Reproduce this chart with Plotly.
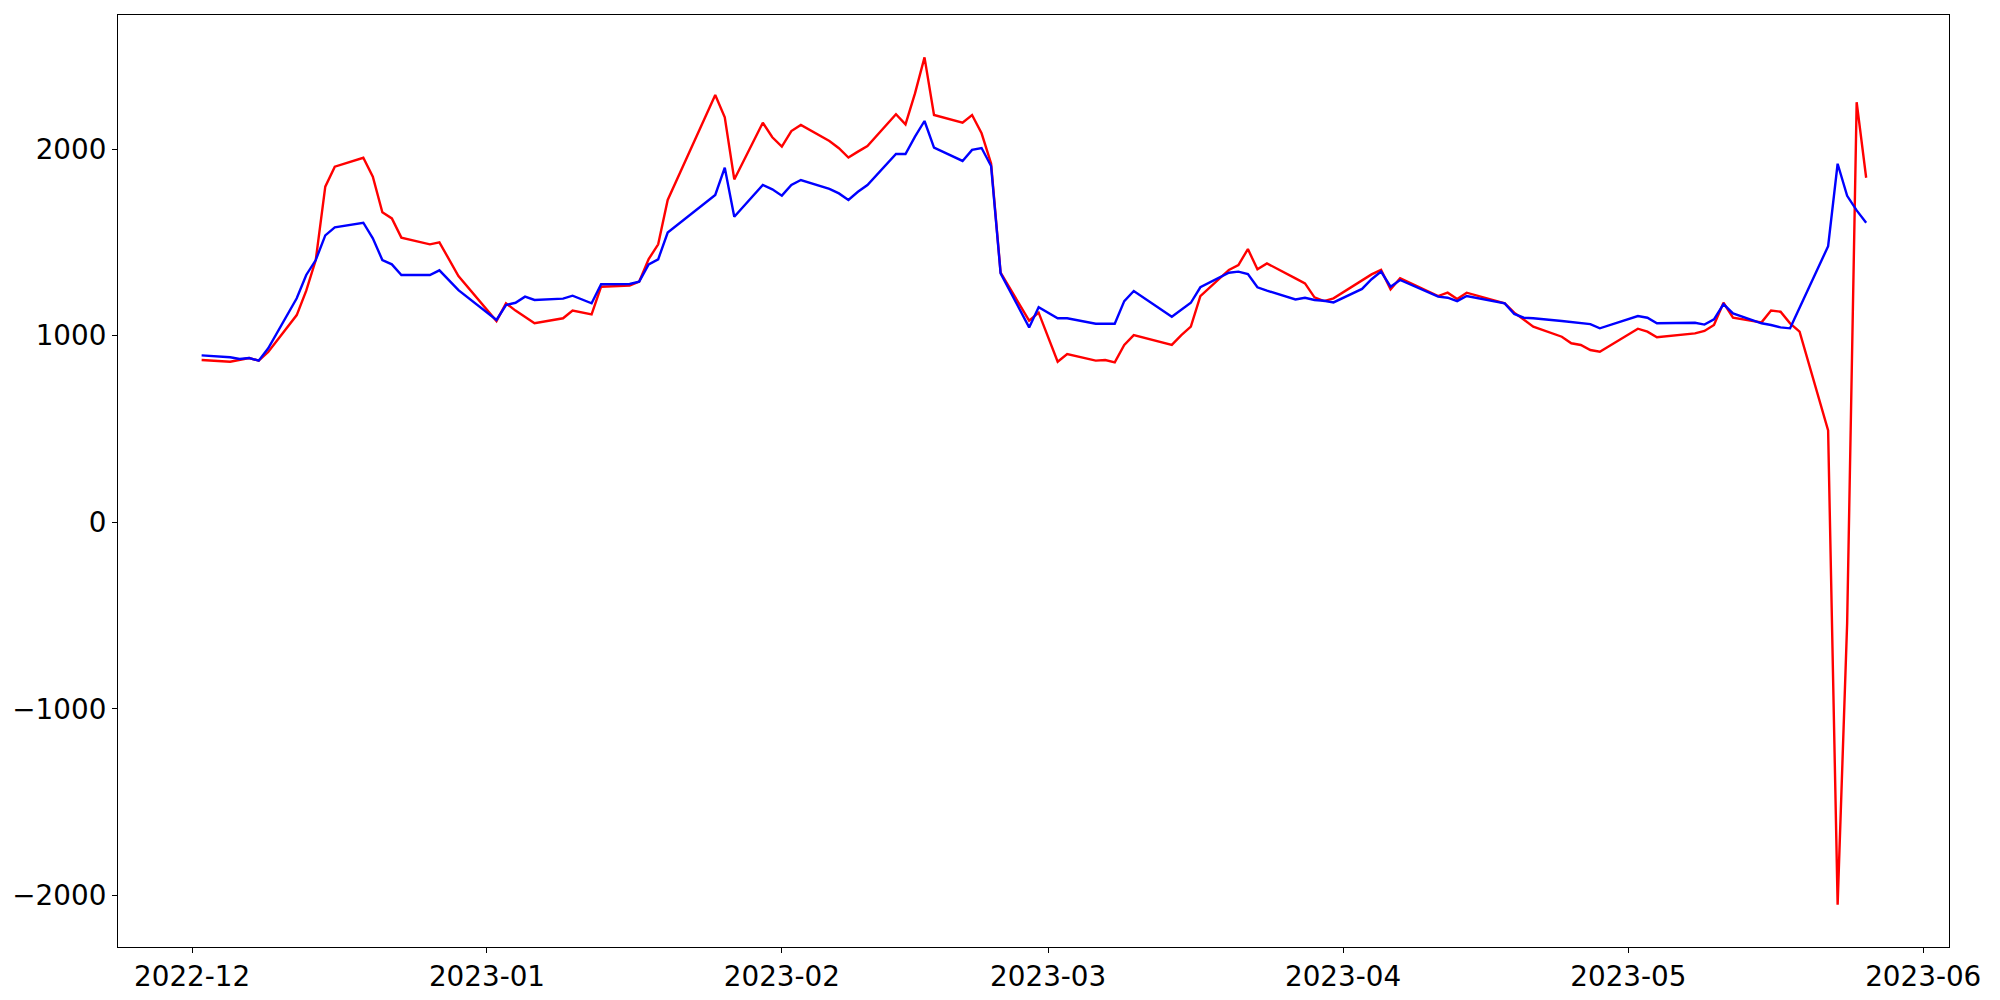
import plotly.graph_objects as go

# red series (vertices)
red_dates = [
    "2022-12-02", "2022-12-05", "2022-12-07", "2022-12-08", "2022-12-09",
    "2022-12-12", "2022-12-13", "2022-12-14", "2022-12-15", "2022-12-16",
    "2022-12-19", "2022-12-20", "2022-12-21", "2022-12-22", "2022-12-23",
    "2022-12-26", "2022-12-27", "2022-12-29", "2023-01-02", "2023-01-03",
    "2023-01-04", "2023-01-05", "2023-01-06", "2023-01-09", "2023-01-10",
    "2023-01-12", "2023-01-13", "2023-01-16", "2023-01-17", "2023-01-18",
    "2023-01-19", "2023-01-20", "2023-01-25", "2023-01-26", "2023-01-27",
    "2023-01-30", "2023-01-31", "2023-02-01", "2023-02-02", "2023-02-03",
    "2023-02-06", "2023-02-07", "2023-02-08", "2023-02-09", "2023-02-10",
    "2023-02-13", "2023-02-14", "2023-02-15", "2023-02-16", "2023-02-17",
    "2023-02-20", "2023-02-21", "2023-02-22", "2023-02-23", "2023-02-24",
    "2023-02-27", "2023-02-28", "2023-03-02", "2023-03-03", "2023-03-06",
    "2023-03-07", "2023-03-08", "2023-03-09", "2023-03-10", "2023-03-14",
    "2023-03-15", "2023-03-16", "2023-03-17", "2023-03-20", "2023-03-21",
    "2023-03-22", "2023-03-23", "2023-03-24", "2023-03-27", "2023-03-28",
    "2023-03-29", "2023-03-30", "2023-03-31", "2023-04-03", "2023-04-04",
    "2023-04-05", "2023-04-06", "2023-04-07", "2023-04-11", "2023-04-12",
    "2023-04-13", "2023-04-14", "2023-04-18", "2023-04-19", "2023-04-20",
    "2023-04-21", "2023-04-24", "2023-04-25", "2023-04-26", "2023-04-27",
    "2023-04-28", "2023-05-02", "2023-05-03", "2023-05-04", "2023-05-08",
    "2023-05-09", "2023-05-10", "2023-05-11", "2023-05-12", "2023-05-15",
    "2023-05-16", "2023-05-17", "2023-05-18", "2023-05-19", "2023-05-22",
    "2023-05-23", "2023-05-24", "2023-05-25", "2023-05-26",
]
red_values = [
    869, 860, 880, 866, 912,
    1110, 1241, 1405, 1798, 1905,
    1953, 1852, 1661, 1628, 1525,
    1489, 1500, 1319, 1078, 1173,
    1134, 1098, 1066, 1093, 1134,
    1114, 1262, 1268, 1289, 1410,
    1489, 1727, 2289, 2170, 1837,
    2141, 2063, 2013, 2096, 2129,
    2043, 2004, 1954, 1986, 2016,
    2186, 2132, 2298, 2491, 2182,
    2141, 2182, 2084, 1923, 1337,
    1080, 1123, 860, 901, 866,
    869, 857, 950, 1003, 950,
    1003, 1048, 1212, 1352, 1378,
    1464, 1355, 1387, 1307, 1280,
    1205, 1185, 1200, 1298, 1328,
    1352, 1248, 1307, 1212, 1230,
    1196, 1230, 1173, 1123, 1084,
    1048, 994, 959, 950, 923,
    914, 1037, 1021, 991, 1012,
    1025, 1057, 1176, 1096, 1071,
    1134, 1128, 1066, 1021, 492,
    -2049, -540, 2251, 1846,
]

# blue series
blue_dates = [
    "2022-12-02", "2022-12-05", "2022-12-06", "2022-12-07", "2022-12-08",
    "2022-12-09", "2022-12-12", "2022-12-13", "2022-12-14", "2022-12-15",
    "2022-12-16", "2022-12-19", "2022-12-20", "2022-12-21", "2022-12-22",
    "2022-12-23", "2022-12-26", "2022-12-27", "2022-12-29", "2023-01-02",
    "2023-01-03", "2023-01-04", "2023-01-05", "2023-01-06", "2023-01-09",
    "2023-01-10", "2023-01-12", "2023-01-13", "2023-01-16", "2023-01-17",
    "2023-01-18", "2023-01-19", "2023-01-20", "2023-01-25", "2023-01-26",
    "2023-01-27", "2023-01-30", "2023-01-31", "2023-02-01", "2023-02-02",
    "2023-02-03", "2023-02-06", "2023-02-07", "2023-02-08", "2023-02-09",
    "2023-02-10", "2023-02-13", "2023-02-14", "2023-02-15", "2023-02-16",
    "2023-02-17", "2023-02-20", "2023-02-21", "2023-02-22", "2023-02-23",
    "2023-02-24", "2023-02-27", "2023-02-28", "2023-03-02", "2023-03-03",
    "2023-03-06", "2023-03-07", "2023-03-08", "2023-03-09", "2023-03-10",
    "2023-03-14", "2023-03-15", "2023-03-16", "2023-03-17", "2023-03-20",
    "2023-03-21", "2023-03-22", "2023-03-23", "2023-03-24", "2023-03-27",
    "2023-03-28", "2023-03-29", "2023-03-30", "2023-03-31", "2023-04-03",
    "2023-04-04", "2023-04-05", "2023-04-06", "2023-04-07", "2023-04-11",
    "2023-04-12", "2023-04-13", "2023-04-14", "2023-04-18", "2023-04-19",
    "2023-04-20", "2023-04-21", "2023-04-24", "2023-04-25", "2023-04-26",
    "2023-04-27", "2023-04-28", "2023-05-02", "2023-05-03", "2023-05-04",
    "2023-05-08", "2023-05-09", "2023-05-10", "2023-05-11", "2023-05-12",
    "2023-05-15", "2023-05-16", "2023-05-17", "2023-05-18", "2023-05-22",
    "2023-05-23", "2023-05-24", "2023-05-25", "2023-05-26",
]
blue_values = [
    894, 884, 875, 880, 866,
    932, 1200, 1325, 1405, 1537,
    1580, 1605, 1521, 1405, 1382,
    1325, 1325, 1350, 1244, 1084,
    1164, 1176, 1209, 1191, 1198,
    1214, 1173, 1275, 1277, 1289,
    1382, 1409, 1552, 1754, 1900,
    1637, 1807, 1784, 1750, 1807,
    1834, 1786, 1762, 1727, 1771,
    1807, 1973, 1973, 2066, 2150,
    2007, 1936, 1995, 2005, 1909,
    1334, 1044, 1152, 1093, 1093,
    1064, 1064, 1064, 1185, 1239,
    1101, 1141, 1176, 1259, 1337,
    1343, 1330, 1259, 1241, 1194,
    1203, 1191, 1187, 1178, 1250,
    1302, 1343, 1262, 1298, 1209,
    1203, 1185, 1212, 1173, 1116,
    1096, 1093, 1078, 1073, 1066,
    1062, 1039, 1105, 1096, 1066,
    1069, 1059, 1087, 1169, 1119,
    1066, 1057, 1044, 1039, 1479,
    1921, 1749, 1671, 1605,
]

y_ticks = [-2000, -1000, 0, 1000, 2000]

fig = go.Figure()
fig.add_trace(go.Scatter(x=red_dates, y=red_values, mode="lines",
                         line=dict(color="red", width=2.4)))
fig.add_trace(go.Scatter(x=blue_dates, y=blue_values, mode="lines",
                         line=dict(color="blue", width=2.4)))

axis_style = dict(
    showline=True, mirror=True, linecolor="black", linewidth=1.1,
    ticks="outside", ticklen=5, tickwidth=1.1, tickcolor="black",
    showgrid=False, zeroline=False, automargin=False,
)
fig.update_xaxes(
    range=["2022-11-23 05:00", "2023-06-03 17:00"],
    tickformat="%Y-%m", dtick="M1", tick0="2022-12-01",
    **axis_style,
)
fig.update_yaxes(range=[-2276, 2718], tickvals=y_ticks, **axis_style)
fig.update_layout(
    width=2000, height=1000,
    margin=dict(l=118, r=51, t=15, b=53),
    font=dict(family="DejaVu Sans", size=27.8, color="black"),
    plot_bgcolor="white", paper_bgcolor="white",
    showlegend=False,
)
fig.write_html("out.html", config={"displayModeBar": False},
               post_script="document.body.style.margin='0';")
